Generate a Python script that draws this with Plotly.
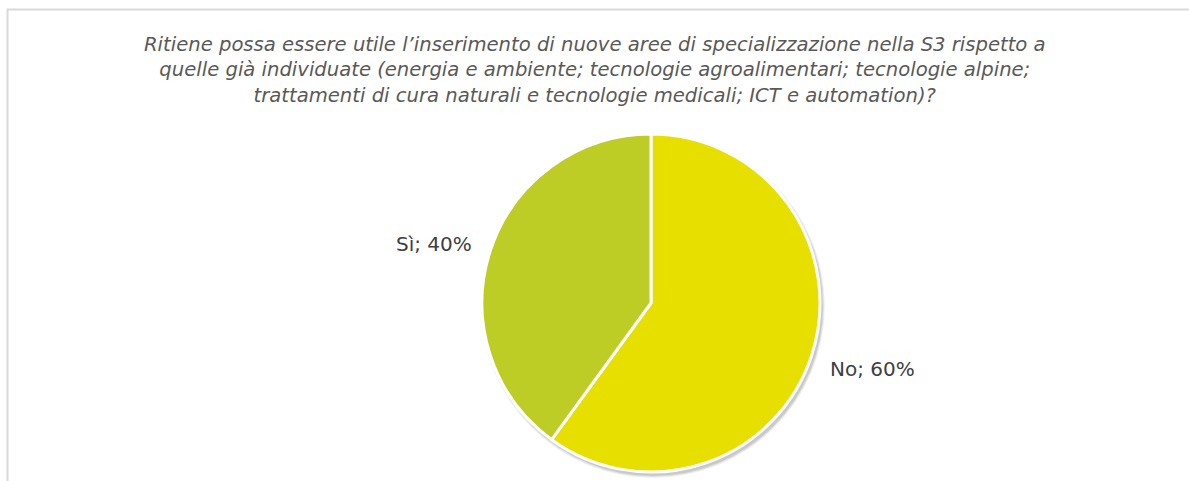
import math
import plotly.graph_objects as go

labels = ["No", "Sì"]
values = [60, 40]
colors = ["#E6DF00", "#BDCD25"]
title_lines = [
    "Ritiene possa essere utile l’inserimento di nuove aree di specializzazione nella S3 rispetto a",
    "quelle già individuate (energia e ambiente; tecnologie agroalimentari; tecnologie alpine;",
    "trattamenti di cura naturali e tecnologie medicali; ICT e automation)?",
]

W, H = 1189, 481
# pie geometry in pixels
CX, CY, R = 651, 303, 169

def px(x):
    return x / W

def py(y):
    return 1 - y / H

fig = go.Figure()

# soft shadow behind the pie (bottom-right)
for i, op in enumerate([0.05, 0.07, 0.10]):
    rr = R + 3 - i
    fig.add_shape(type="circle", xref="paper", yref="paper", layer="below",
                  x0=px(CX + 2 - rr), x1=px(CX + 2 + rr),
                  y0=py(CY + 3 + rr), y1=py(CY + 3 - rr),
                  fillcolor=f"rgba(0,0,0,{op})", line=dict(width=0))

fig.add_trace(go.Pie(
    labels=labels,
    values=values,
    sort=False,
    direction="clockwise",
    rotation=0,
    marker=dict(colors=colors, line=dict(color="white", width=3)),
    textinfo="none",
    showlegend=False,
    hoverinfo="label+percent",
    domain=dict(x=[px(CX - R), px(CX + R)], y=[py(CY + R), py(CY - R)]),
))

# data labels placed at slice mid-angles
total = sum(values)
start = 0.0
for lab, val in zip(labels, values):
    frac = val / total
    mid = (start + frac / 2) * 2 * math.pi
    start += frac
    dx, dy = math.sin(mid), math.cos(mid)
    k = 1.1
    lx = CX + dx * R * k
    ly = CY - dy * R * k - (2 if dx < 0 else -9)
    fig.add_annotation(
        text=f"{lab}; {round(frac * 100)}%",
        xref="paper", yref="paper", x=px(lx), y=py(ly),
        xanchor="right" if dx < 0 else "left", yanchor="middle",
        showarrow=False,
        font=dict(family="DejaVu Sans", size=20, color="#404040"),
    )

# frame (left and top border of the original chart area)
fig.add_shape(type="path",
              path=f"M {px(7.5)} 0 L {px(7.5)} {py(9.5)} L 1.01 {py(9.5)}",
              xref="paper", yref="paper",
              line=dict(color="#D9D9D9", width=2))

fig.add_annotation(
    text="<i>" + "<br>".join(title_lines) + "</i>",
    xref="paper", yref="paper", x=px(595), y=py(31),
    xanchor="center", yanchor="top", showarrow=False,
    font=dict(family="DejaVu Sans", size=19.6, color="#595959"),
    align="center",
)

fig.update_layout(
    width=W, height=H,
    margin=dict(l=0, r=0, t=0, b=0, autoexpand=False),
    paper_bgcolor="white", plot_bgcolor="white",
)
fig.write_html("out.html", config={"displayModeBar": False},
               post_script="document.body.style.margin='0';")
